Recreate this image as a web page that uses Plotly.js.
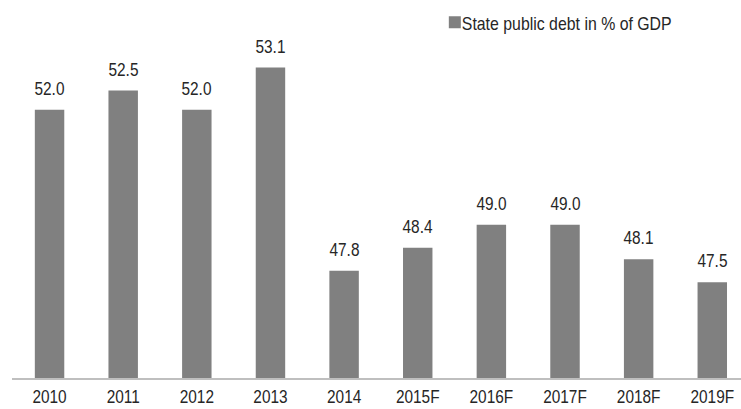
<!DOCTYPE html>
<html>
<head>
<meta charset="utf-8">
<script src="https://cdn.plot.ly/plotly-3.0.1.min.js"></script>
<style>html,body{margin:0;padding:0;background:#fff;}#chart{width:741px;height:409px;}</style>
</head>
<body>
<div id="chart"></div>
<script>
const categories = ["2010","2011","2012","2013","2014","2015F","2016F","2017F","2018F","2019F"];
const debtValues = [52.0, 52.5, 52.0, 53.1, 47.8, 48.4, 49.0, 49.0, 48.1, 47.5];
const seriesName = "State public debt in % of GDP";

const FONT = "Liberation Sans, Arial, sans-serif";

const trace = {
  type: "bar",
  x: categories,
  y: debtValues,
  name: seriesName,
  marker: {color: "#808080"},
  hoverinfo: "none"
};

const annotations = categories.map((c, i) => ({
  x: i, y: debtValues[i], xref: "x", yref: "y",
  text: debtValues[i].toFixed(1),
  showarrow: false, yanchor: "bottom", yshift: 9,
  font: {family: FONT, size: 19, color: "#262626"}
}));

const layout = {
  width: 741, height: 409,
  margin: {l: 12, r: 0, t: 10, b: 31},
  paper_bgcolor: "#fff", plot_bgcolor: "#fff",
  bargap: 0.6,
  showlegend: true,
  legend: {x: 0.580, y: 1.018, xanchor: "left", yanchor: "top",
           font: {family: FONT, size: 19, color: "#262626"},
           bgcolor: "rgba(0,0,0,0)"},
  xaxis: {type: "category", range: [-0.51, 9.39], showgrid: false, zeroline: false,
          showline: true, linecolor: "#bfbfbf", linewidth: 1.5, ticks: "",
          ticklabelstandoff: 1,
          tickfont: {family: FONT, size: 19, color: "#262626"}, fixedrange: true},
  yaxis: {range: [45, 54.6], visible: false, fixedrange: true},
  annotations: annotations
};

function condense(sel, k, anchor) {
  document.querySelectorAll(sel).forEach(t => {
    const b = t.getBBox();
    const cx = anchor === "start" ? b.x : b.x + b.width / 2;
    const tr = t.getAttribute("transform") || "";
    t.setAttribute("transform", tr + ` translate(${cx},0) scale(${k},1) translate(${-cx},0)`);
  });
}

Plotly.newPlot("chart", [trace], layout, {displayModeBar: false, staticPlot: true}).then(() => {
  condense("#chart .xtick text", 0.81, "middle");
  condense("#chart .annotation-text", 0.81, "middle");
  document.querySelectorAll("#chart .legendtext").forEach(t => {
    t.setAttribute("x", parseFloat(t.getAttribute("x")) - 13);
  });
  condense("#chart .legendtext", 0.835, "start");
});
</script>
</body>
</html>
